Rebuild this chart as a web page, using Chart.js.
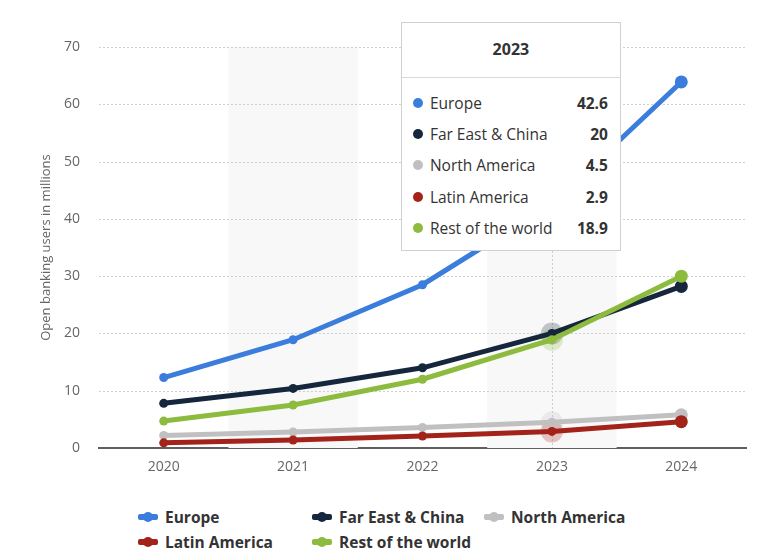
<!DOCTYPE html>
<html>
<head>
<meta charset="utf-8">
<script src="https://cdn.jsdelivr.net/npm/chart.js@4.4.1/dist/chart.umd.min.js"></script>
<style>
  body { margin: 0; background: #fff; font-family: 'Open Sans', sans-serif; }
  #wrap { position: relative; width: 770px; height: 558px; }
  #chartBox { position: absolute; left: 0; top: 0; width: 770px; height: 490px; }
  #tip {
    position: absolute; width: 220px; background: #fff; border: 1px solid #d0d0d0;
    box-sizing: border-box; color: #333; font-size: 15.5px; display: none;
  }
  #tip .title { text-align: center; font-weight: 700; font-size: 16px; height: 54px; line-height: 52px; border-bottom: 1px solid #d9d9d9; }
  #tip .rows { padding: 9px 12px 6px 11px; }
  #tip .row { display: flex; align-items: center; height: 31.4px; }
  #tip .dot { width: 10px; height: 10px; border-radius: 50%; margin-right: 7px; }
  #tip .lab { flex: 1; }
  #tip .val { font-weight: 700; }
  #legend { position: absolute; left: 138px; top: 507px; display: grid; grid-template-columns: 174px 172px auto; row-gap: 5px; }
  .li { display: flex; align-items: center; font-weight: 700; font-size: 15.5px; color: #333; height: 20px; }
  .mk { position: relative; width: 20px; height: 6px; border-radius: 2px; margin-right: 7px; }
  .mk::after { content: ''; position: absolute; left: 5px; top: -2px; width: 10px; height: 10px; border-radius: 50%; background: inherit; }
</style>
</head>
<body>
<div id="wrap">
  <div id="chartBox"><canvas id="c"></canvas></div>
  <div id="tip"></div>
  <div id="legend"></div>
</div>
<script>
const years = ['2020', '2021', '2022', '2023', '2024'];
const seriesNames = ['Europe', 'Far East & China', 'North America', 'Latin America', 'Rest of the world'];
const europe = [12.3, 18.9, 28.5, 42.6, 63.9];
const farEast = [7.8, 10.4, 14.0, 20, 28.2];
const northAmerica = [2.2, 2.8, 3.6, 4.5, 5.8];
const latinAmerica = [0.9, 1.4, 2.1, 2.9, 4.6];
const restOfWorld = [4.7, 7.5, 12.0, 18.9, 30.0];
const seriesColors = ['#3b7ddd', '#15263d', '#c0c0c0', '#a3231a', '#8dbb3d'];
const yTicks = [0, 10, 20, 30, 40, 50, 60, 70];
const activeIndex = 3;

const allValues = [europe, farEast, northAmerica, latinAmerica, restOfWorld];

// alternating background bands behind 2021 / 2023, crosshair and hover halos
const decorPlugin = {
    id: 'decor',
    beforeDatasetsDraw(chart) {
        const { ctx, chartArea, scales } = chart;
        const x = scales.x;
        const w = x.getPixelForValue(1) - x.getPixelForValue(0);
        ctx.save();
        ctx.fillStyle = '#f8f8f8';
        years.forEach((y, i) => {
            if (i % 2 === 1) {
                const cx = x.getPixelForValue(i);
                ctx.fillRect(cx - w / 2, chartArea.top, w, chartArea.bottom - chartArea.top);
            }
        });
        // grid dots drawn over the bands
        ctx.strokeStyle = '#cfcfcf';
        ctx.lineWidth = 1;
        ctx.setLineDash([2, 2]);
        yTicks.slice(1).forEach(v => {
            const py = Math.round(scales.y.getPixelForValue(v)) + 0.5;
            ctx.beginPath();
            ctx.moveTo(chartArea.left, py);
            ctx.lineTo(chartArea.right, py);
            ctx.stroke();
        });
        const ax = Math.round(x.getPixelForValue(activeIndex)) + 0.5;
        ctx.beginPath();
        ctx.moveTo(ax, chartArea.top);
        ctx.lineTo(ax, chartArea.bottom);
        ctx.stroke();
        ctx.setLineDash([]);
        // halos
        chart.data.datasets.forEach((ds, i) => {
            const pt = chart.getDatasetMeta(i).data[activeIndex];
            ctx.globalAlpha = 0.25;
            ctx.fillStyle = ds.borderColor;
            ctx.beginPath();
            ctx.arc(pt.x, pt.y, 11, 0, Math.PI * 2);
            ctx.fill();
        });
        ctx.restore();
    }
};

function externalTip(context) {
    const tip = document.getElementById('tip');
    const t = context.tooltip;
    if (t.opacity === 0 || !t.dataPoints || !t.dataPoints.length) { tip.style.display = 'none'; return; }
    const idx = t.dataPoints[0].dataIndex;
    let html = '<div class="title">' + years[idx] + '</div><div class="rows">';
    seriesNames.forEach((n, i) => {
        html += '<div class="row"><span class="dot" style="background:' + seriesColors[i] + '"></span>' +
            '<span class="lab">' + n + '</span><span class="val">' + allValues[i][idx] + '</span></div>';
    });
    html += '</div>';
    tip.innerHTML = html;
    tip.style.display = 'block';
    tip.style.left = (t.caretX - 151) + 'px';
    tip.style.top = '22px';
}

const datasets = seriesNames.map((name, i) => ({
    label: name,
    data: allValues[i],
    borderColor: seriesColors[i],
    backgroundColor: seriesColors[i],
    borderWidth: 5,
    pointRadius: [4.5, 4.5, 4.5, 4.5, 6.5],
    pointHoverRadius: [4.5, 4.5, 4.5, 4.5, 6.5],
    pointBorderWidth: 0,
    pointHoverBorderWidth: 0,
    tension: 0,
    order: 5 - i
}));

const chart = new Chart(document.getElementById('c'), {
    type: 'line',
    data: { labels: years, datasets: datasets },
    plugins: [decorPlugin],
    options: {
        responsive: true,
        maintainAspectRatio: false,
        animation: false,
        events: [],
        layout: { padding: { top: 47, right: 24, bottom: 0, left: 0 } },
        plugins: {
            legend: { display: false },
            tooltip: { enabled: false, external: externalTip, mode: 'index', intersect: false }
        },
        scales: {
            x: {
                offset: true,
                afterFit(scale) { scale.height = 42; },
                grid: { display: false, drawTicks: false },
                border: { display: true, color: '#5f5f5f', width: 2 },
                ticks: { color: '#666', padding: 11, font: { family: "'Open Sans', sans-serif", size: 14 } }
            },
            y: {
                min: 0, max: 70,
                afterFit(scale) { scale.width = 99; },
                afterBuildTicks(scale) { scale.ticks = yTicks.map(v => ({ value: v })); },
                grid: { display: false, drawTicks: false },
                border: { display: false },
                ticks: { color: '#666', padding: 19, font: { family: "'Open Sans', sans-serif", size: 14 } },
                title: {
                    display: true,
                    text: 'Open banking users in millions',
                    color: '#666',
                    padding: { top: 38, bottom: 0 },
                    font: { family: "'Open Sans', sans-serif", size: 13 }
                }
            }
        }
    }
});

const active = datasets.map((d, i) => ({ datasetIndex: i, index: activeIndex }));
chart.tooltip.setActiveElements(active, { x: 0, y: 0 });
chart.update();

const legend = document.getElementById('legend');
seriesNames.forEach((n, i) => {
    const el = document.createElement('div');
    el.className = 'li';
    el.innerHTML = '<span class="mk" style="background:' + seriesColors[i] + '"></span>' + n;
    legend.appendChild(el);
});
</script>
</body>
</html>
